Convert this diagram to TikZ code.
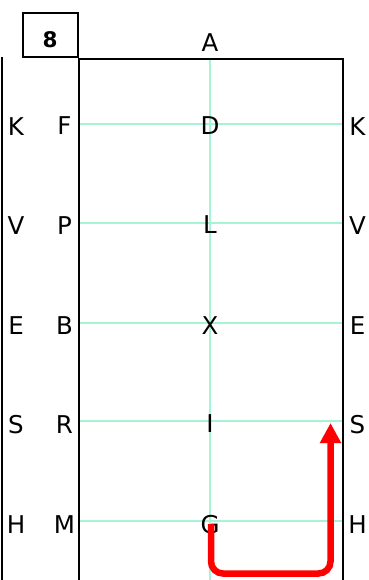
\documentclass[tikz,border=0pt]{standalone}
\usepackage{fontspec}
\setmainfont{DejaVu Sans}
\usetikzlibrary{arrows.meta}
\definecolor{gridgreen}{RGB}{165,245,212}
\newcommand{\lblfont}{\fontsize{24.5pt}{27pt}\selectfont}
\newcommand{\numfont}{\fontsize{21.5pt}{25pt}\selectfont\bfseries}
\begin{document}
\begin{tikzpicture}[x=1pt,y=-1pt,
  lbl/.style={font=\lblfont, inner sep=0pt, anchor=center},
  arena/.style={line width=2.2pt, black},
  gridline/.style={line width=1.2pt, gridgreen},
  route/.style={line width=6.5pt, red, rounded corners=12pt, -{Triangle[width=20pt,length=20pt]}}
]
\useasboundingbox (0,0) rectangle (368,580);
% grid lines
\foreach \yy in {124,223,323,421,521} \draw[gridline] (79,\yy) -- (343,\yy);
\draw[gridline] (210,59) -- (210,580);
% arena
\draw[arena] (79,580) -- (79,59) -- (343,59) -- (343,580);
\draw[arena] (2,57) -- (2,580);
% number box
\node[draw, line width=2pt, minimum width=55pt, minimum height=44pt, inner sep=0pt] (num) at (50.5,35) {};
\node[font=\numfont, inner sep=0pt] (numtext) at (50,40) {8};
% labels
\node[lbl] (A) at (210,42.5) {A};
\node[lbl] (D) at (210,125.5) {D};
\node[lbl] (L) at (210,224.5) {L};
\node[lbl] (X) at (210,326) {X};
\node[lbl] (I) at (210,424) {I};
\node[lbl] (G) at (210,525) {G};
\foreach \nm/\t/\yy in {lK/K/127,lV/V/226,lE/E/326,lS/S/425,lH/H/525}
  \node[lbl] (\nm) at (16,\yy) {\t};
\foreach \nm/\t/\yy in {iF/F/126,iP/P/226,iB/B/326,iR/R/425,iM/M/525}
  \node[lbl] (\nm) at (64.5,\yy) {\t};
\foreach \nm/\t/\yy in {rK/K/127,rV/V/226,rE/E/326,rS/S/425,rH/H/525}
  \node[lbl] (\nm) at (357.5,\yy) {\t};
% route
\coordinate (start) at (211,524);
\coordinate (corner) at (330.5,573.5);
\coordinate (finish) at (330.5,423);
\draw[route] (start) |- (corner) -- (finish);
\end{tikzpicture}
\end{document}
